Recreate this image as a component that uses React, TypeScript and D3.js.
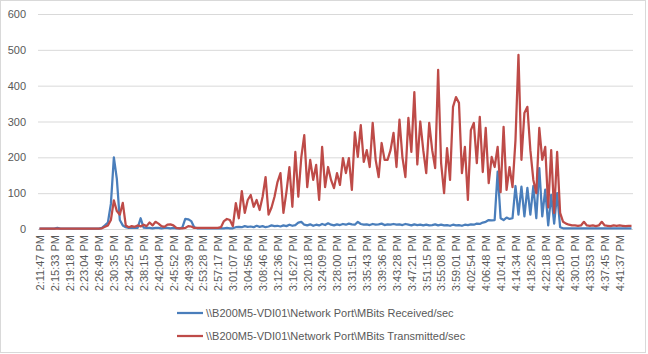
import React, {useEffect, useRef} from 'react';
import * as d3 from 'd3';

// Tick labels shown every 5th sample on the category axis
const tickLabels = [
  "2:11:47 PM", "2:15:33 PM", "2:19:18 PM", "2:23:04 PM", "2:26:49 PM",
  "2:30:35 PM", "2:34:25 PM", "2:38:15 PM", "2:42:04 PM", "2:45:52 PM",
  "2:49:39 PM", "2:53:28 PM", "2:57:17 PM", "3:01:07 PM", "3:04:56 PM",
  "3:08:46 PM", "3:12:36 PM", "3:16:27 PM", "3:20:18 PM", "3:24:09 PM",
  "3:28:00 PM", "3:31:51 PM", "3:35:43 PM", "3:39:36 PM", "3:43:28 PM",
  "3:47:21 PM", "3:51:15 PM", "3:55:08 PM", "3:59:01 PM", "4:02:54 PM",
  "4:06:48 PM", "4:10:41 PM", "4:14:34 PM", "4:18:26 PM", "4:22:18 PM",
  "4:26:10 PM", "4:30:01 PM", "4:33:53 PM", "4:37:45 PM", "4:41:37 PM",
];
const labelEvery = 5;

const yTicks = [0, 100, 200, 300, 400, 500, 600];

const seriesNames = [
  String.raw`\\B200M5-VDI01\Network Port\MBits Received/sec`,
  String.raw`\\B200M5-VDI01\Network Port\MBits Transmitted/sec`,
];
const seriesColors = ["#4a7ebb", "#be4b48"];

const received = [
  1, 1, 1, 1, 1, 1, 3, 1, 1, 1,
  1, 1, 1, 1, 1, 1, 1, 1, 1, 1,
  1, 3, 10, 18, 70, 200, 140, 25, 10, 5,
  3, 3, 4, 3, 30, 4, 3, 3, 2, 3,
  3, 2, 3, 3, 2, 3, 2, 2, 4, 28,
  27, 22, 5, 2, 2, 2, 2, 2, 2, 2,
  2, 2, 2, 3, 2, 2, 5, 6, 5, 8,
  6, 7, 5, 9, 6, 8, 5, 7, 10, 8,
  9, 7, 10, 8, 12, 9, 11, 18, 20, 12,
  10, 13, 9, 12, 10, 14, 11, 16, 12, 10,
  13, 11, 14, 12, 15, 13, 12, 20, 14, 12,
  13, 11, 14, 12, 13, 15, 11, 13, 12, 14,
  12, 13, 11, 14, 12, 10, 13, 11, 12, 10,
  12, 10, 11, 13, 10, 12, 10, 11, 9, 12,
  10, 11, 9, 12, 11, 13, 12, 15, 14, 18,
  20, 25, 24, 25, 160, 30, 25, 32, 28, 30,
  120, 40, 118, 35, 115, 40, 120, 30, 170, 35,
  110, 10, 95, 15, 100, 5, 2, 2, 2, 2,
  2, 2, 2, 2, 2, 2, 2, 2, 2, 2,
  2, 2, 2, 2, 2, 2, 2, 2, 2, 2,
];

const transmitted = [
  1, 1, 1, 1, 1, 1, 1, 1, 1, 1,
  1, 1, 1, 1, 1, 1, 1, 1, 1, 1,
  1, 2, 6, 10, 25, 80, 50, 40, 73, 10,
  5, 8, 6, 10, 7, 12, 8, 18, 10, 20,
  15, 8, 6, 12, 13, 10, 3, 2, 2, 3,
  8, 7, 3, 3, 3, 3, 3, 3, 3, 3,
  3, 5, 22, 28, 25, 8, 72, 30, 106, 45,
  81, 95, 62, 81, 53, 90, 145, 40, 60, 90,
  131, 156, 45, 103, 173, 62, 215, 90, 200, 262,
  117, 193, 137, 179, 81, 229, 117, 173, 137, 114,
  156, 123, 198, 156, 198, 109, 270, 201, 290, 187,
  220, 173, 296, 193, 145, 240, 193, 193, 220, 268,
  173, 305, 200, 145, 310, 215, 382, 180, 300, 220,
  156, 296, 220, 170, 444, 184, 100, 226, 137, 341,
  368, 352, 156, 229, 81, 276, 296, 184, 313, 159,
  282, 128, 201, 173, 229, 103, 285, 109, 173, 117,
  248, 486, 193, 324, 341, 220, 137, 100, 282, 193,
  229, 60, 220, 45, 215, 45, 20, 15, 12, 10,
  10, 9, 10, 20, 10, 9, 10, 8, 10, 20,
  10, 9, 8, 10, 9, 10, 9, 8, 9, 9,
];

const width = 648;
const height = 354;
const font = "'Liberation Sans', Arial, sans-serif";
const textColor = "#595959";

export default function App() {
  const ref = useRef<SVGSVGElement>(null);

  useEffect(() => {
    const svg = d3.select(ref.current);
    svg.selectAll("*").remove();

    const left = 38, right = 633, top = 14, bottom = 229;
    const n = received.length;

    const x = d3.scaleLinear([-0.5, n - 0.5], [left, right]);
    const y = d3.scaleLinear([0, 600], [bottom, top]);

    // chart border
    svg.append("rect")
      .attr("x", 0.5).attr("y", 0.5)
      .attr("width", 645).attr("height", 352)
      .attr("fill", "#fff")
      .attr("stroke", "#d9d9d9");

    // y axis with gridlines
    svg.append("g")
      .attr("transform", `translate(${left},0)`)
      .call(d3.axisLeft(y).tickValues(yTicks).tickSize(-(right - left)).tickPadding(12))
      .call(g => g.select(".domain").remove())
      .call(g => g.selectAll(".tick line").attr("stroke", "#d9d9d9"))
      .call(g => g.selectAll(".tick text")
        .attr("fill", textColor)
        .attr("font-family", font)
        .attr("font-size", 11));

    // x axis labels, rotated
    const tickIdx = tickLabels.map((_, i) => i * labelEvery);
    svg.append("g")
      .attr("transform", `translate(0,${bottom})`)
      .call(d3.axisBottom(x).tickValues(tickIdx).tickSize(0)
        .tickFormat((d) => tickLabels[(d as number) / labelEvery]))
      .call(g => g.select(".domain").remove())
      .call(g => g.selectAll(".tick text")
        .attr("fill", textColor)
        .attr("font-family", font)
        .attr("font-size", 11)
        .attr("text-anchor", "end")
        .attr("dy", "0.35em")
        .attr("y", 0)
        .attr("transform", "translate(0,6) rotate(-90)"));

    // lines
    const line = d3.line<number>()
      .x((_, i) => x(i))
      .y(d => y(d));

    [received, transmitted].forEach((data, k) => {
      svg.append("path")
        .datum(data)
        .attr("fill", "none")
        .attr("stroke", seriesColors[k])
        .attr("stroke-width", 2.25)
        .attr("stroke-linejoin", "round")
        .attr("d", line);
    });

    // legend
    const legend = svg.append("g")
      .selectAll("g")
      .data(seriesNames)
      .join("g")
      .attr("transform", (_, i) => `translate(177,${313 + i * 23})`);
    legend.append("line")
      .attr("x1", 0).attr("x2", 26)
      .attr("stroke", (_, i) => seriesColors[i])
      .attr("stroke-width", 2.25);
    legend.append("text")
      .attr("x", 29)
      .attr("dy", "0.35em")
      .attr("fill", textColor)
      .attr("font-family", font)
      .attr("font-size", 11)
      .text(d => d);
  }, []);

  return <svg ref={ref} width={width} height={height}
              style={{position: "absolute", left: 0, top: 0}}/>;
}
